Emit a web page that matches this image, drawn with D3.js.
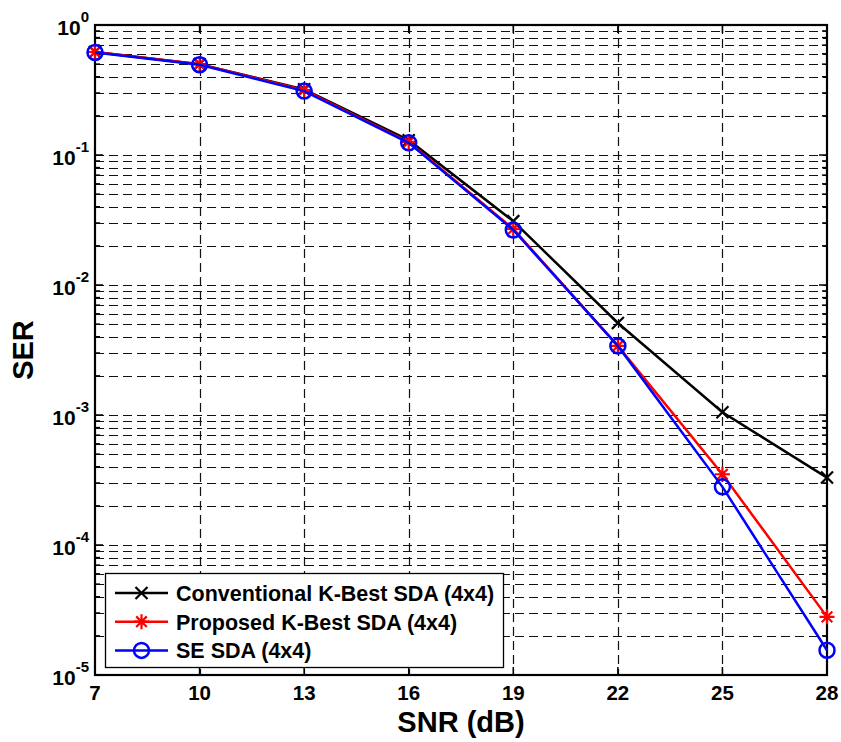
<!DOCTYPE html>
<html>
<head>
<meta charset="utf-8">
<script src="https://cdn.jsdelivr.net/npm/d3@7/dist/d3.min.js"></script>
<style>
  html, body { margin: 0; padding: 0; background: #fff; }
  svg { display: block; font-family: "Liberation Sans", Arial, sans-serif; font-weight: bold; }
</style>
</head>
<body>
<svg id="chart" width="841" height="742"></svg>
<script>
// SNR points (dB) and symbol error rates for each detector
const snr = [7, 10, 13, 16, 19, 22, 25, 28];
const serConventional = [0.62, 0.50, 0.32, 0.13, 0.031, 0.0051, 0.00105, 0.00033];
const serProposed     = [0.62, 0.50, 0.315, 0.126, 0.027, 0.0034, 0.00035, 0.000028];
const serSE           = [0.615, 0.495, 0.31, 0.124, 0.0265, 0.0034, 0.00028, 0.0000155];
const seriesNames = ["Conventional K-Best SDA (4x4)", "Proposed K-Best SDA (4x4)", "SE SDA (4x4)"];
const xTicks = [7, 10, 13, 16, 19, 22, 25, 28];
const yExponents = [0, -1, -2, -3, -4, -5];

const svg = d3.select("#chart");
const L = 95, R = 827, T = 25, B = 675;

const x = d3.scaleLinear().domain([7, 28]).range([L, R]);
const y = d3.scaleLog().domain([1e-5, 1]).range([B, T]);

// grid: every decade value and its minor subdivisions
const gridVals = [];
for (let e = -5; e < 0; e++) for (let k = 1; k < 10; k++) gridVals.push(k * Math.pow(10, e));
gridVals.push(1);

const grid = svg.append("g").attr("stroke", "#111").attr("stroke-width", 1.2)
  .attr("stroke-dasharray", "9,5").attr("fill", "none");
grid.selectAll("line.h").data(gridVals.filter(v => v > 1e-5 && v < 1)).join("line")
  .attr("x1", L).attr("x2", R)
  .attr("y1", d => Math.round(y(d)) + 0.5).attr("y2", d => Math.round(y(d)) + 0.5);
grid.selectAll("line.v").data(xTicks.filter(t => t > 7 && t < 28)).join("line")
  .attr("y1", T).attr("y2", B)
  .attr("x1", d => Math.round(x(d)) + 0.5).attr("x2", d => Math.round(x(d)) + 0.5);

// tick marks on all four sides (inward)
const ticks = svg.append("g").attr("stroke", "#000").attr("stroke-width", 1.5);
gridVals.forEach(v => {
  const yy = y(v);
  const len = (Math.abs(Math.log10(v) - Math.round(Math.log10(v))) < 1e-9) ? 8 : 5;
  ticks.append("line").attr("x1", L).attr("x2", L + len).attr("y1", yy).attr("y2", yy);
  ticks.append("line").attr("x1", R).attr("x2", R - len).attr("y1", yy).attr("y2", yy);
});
xTicks.forEach(t => {
  ticks.append("line").attr("x1", x(t)).attr("x2", x(t)).attr("y1", B).attr("y2", B - 8);
  ticks.append("line").attr("x1", x(t)).attr("x2", x(t)).attr("y1", T).attr("y2", T + 8);
});

// axes box
svg.append("rect").attr("x", L).attr("y", T).attr("width", R - L).attr("height", B - T)
  .attr("fill", "none").attr("stroke", "#000").attr("stroke-width", 2.2);

// x tick labels
svg.append("g").selectAll("text").data(xTicks).join("text")
  .attr("x", d => x(d)).attr("y", B + 25)
  .attr("text-anchor", "middle").attr("font-size", 20.5).text(d => d);

// y tick labels as 10^e
const yl = svg.append("g");
yExponents.forEach(e => {
  const t = yl.append("text").attr("x", 89).attr("y", y(Math.pow(10, e)) + 10)
    .attr("text-anchor", "end").attr("font-size", 21);
  t.append("tspan").text("10");
  t.append("tspan").attr("dy", -13).attr("font-size", 15).text(e === 0 ? "0" : "-" + (-e));
});

// axis titles
svg.append("text").attr("x", (L + R) / 2).attr("y", 732).attr("text-anchor", "middle")
  .attr("font-size", 29).text("SNR (dB)");
svg.append("text").attr("transform", `translate(33, ${(T + B) / 2}) rotate(-90)`)
  .attr("text-anchor", "middle").attr("font-size", 29).text("SER");

// markers
function drawMarker(g, type, color, cx, cy) {
  if (type === "x") {
    const s = 6;
    g.append("path").attr("d", `M${cx - s},${cy - s}L${cx + s},${cy + s}M${cx - s},${cy + s}L${cx + s},${cy - s}`)
      .attr("stroke", color).attr("stroke-width", 2.2).attr("fill", "none");
  } else if (type === "star") {
    const s = 7.5, d = 5.3;
    g.append("path").attr("d",
      `M${cx - s},${cy}L${cx + s},${cy}M${cx},${cy - s}L${cx},${cy + s}` +
      `M${cx - d},${cy - d}L${cx + d},${cy + d}M${cx - d},${cy + d}L${cx + d},${cy - d}`)
      .attr("stroke", color).attr("stroke-width", 2.2).attr("fill", "none");
  } else {
    g.append("circle").attr("cx", cx).attr("cy", cy).attr("r", 7.5)
      .attr("stroke", color).attr("stroke-width", 2.5).attr("fill", "none");
  }
}

const series = [
  { name: seriesNames[0], values: serConventional, color: "#000000", marker: "x" },
  { name: seriesNames[1], values: serProposed, color: "#ff0000", marker: "star" },
  { name: seriesNames[2], values: serSE, color: "#0000ff", marker: "circle" }
];

const line = d3.line().x(d => x(d[0])).y(d => y(d[1]));
series.forEach(s => {
  const pts = snr.map((v, i) => [v, s.values[i]]);
  const g = svg.append("g");
  g.append("path").datum(pts).attr("d", line).attr("fill", "none")
    .attr("stroke", s.color).attr("stroke-width", 2.5);
  pts.forEach(p => drawMarker(g, s.marker, s.color, x(p[0]), y(p[1])));
});

// legend
const lg = svg.append("g");
lg.append("rect").attr("x", 105.5).attr("y", 573.5).attr("width", 398).attr("height", 94)
  .attr("fill", "#fff").attr("stroke", "#000").attr("stroke-width", 1.3);
series.forEach((s, i) => {
  const yy = 593 + i * 28.7;
  lg.append("line").attr("x1", 115).attr("x2", 168).attr("y1", yy).attr("y2", yy)
    .attr("stroke", s.color).attr("stroke-width", 2.5);
  drawMarker(lg, s.marker, s.color, 141.5, yy);
  lg.append("text").attr("x", 176).attr("y", yy + 8).attr("font-size", 21.5).text(s.name);
});
</script>
</body>
</html>
